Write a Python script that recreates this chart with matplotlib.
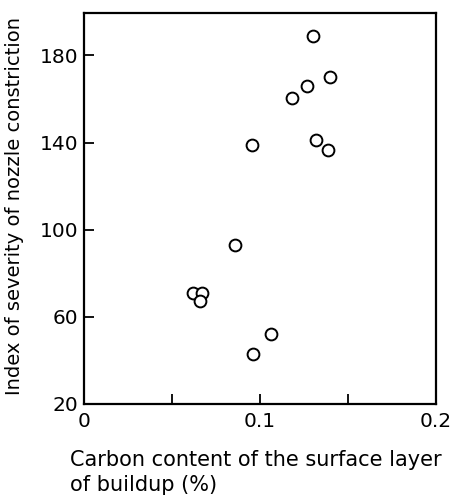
import matplotlib
matplotlib.use("Agg")
import matplotlib.pyplot as plt

carbon = [0.130, 0.140, 0.1265, 0.118, 0.0954, 0.132, 0.1387, 0.0859,
          0.0621, 0.067, 0.0657, 0.0962, 0.1063]
severity = [189, 170, 166, 160.5, 139, 141, 136.5, 93, 71, 71, 67, 43, 52]

x_ticks = [0, 0.05, 0.1, 0.15, 0.2]
x_labels = ["0", "", "0.1", "", "0.2"]
y_ticks = [20, 60, 100, 140, 180]
y_labels = ["20", "60", "100", "140", "180"]

fig = plt.figure(figsize=(4.63, 5.01), dpi=100)
ax = fig.add_axes([0.181, 0.194, 0.761, 0.780])
ax.plot(carbon, severity, linestyle="none", marker="o", markersize=8.5,
        markerfacecolor="white", markeredgecolor="black", markeredgewidth=1.4)
ax.set_xlim(0, 0.2)
ax.set_ylim(20, 199.5)
ax.set_xticks(x_ticks)
ax.set_xticklabels(x_labels)
ax.set_yticks(y_ticks)
ax.set_yticklabels(y_labels)
ax.tick_params(direction="in", length=7, width=1.3, labelsize=14.5, pad=4)
ax.tick_params(axis="x", pad=6)
for s in ax.spines.values():
    s.set_linewidth(1.6)

ax.set_ylabel("Index of severity of nozzle constriction", fontsize=14)
ax.yaxis.set_label_coords(-0.17, 0.505)
fig.text(0.151, 0.102, "Carbon content of the surface layer\nof buildup (%)",
         fontsize=15, ha="left", va="top", linespacing=1.3)

fig.savefig("out.png", dpi=100)
